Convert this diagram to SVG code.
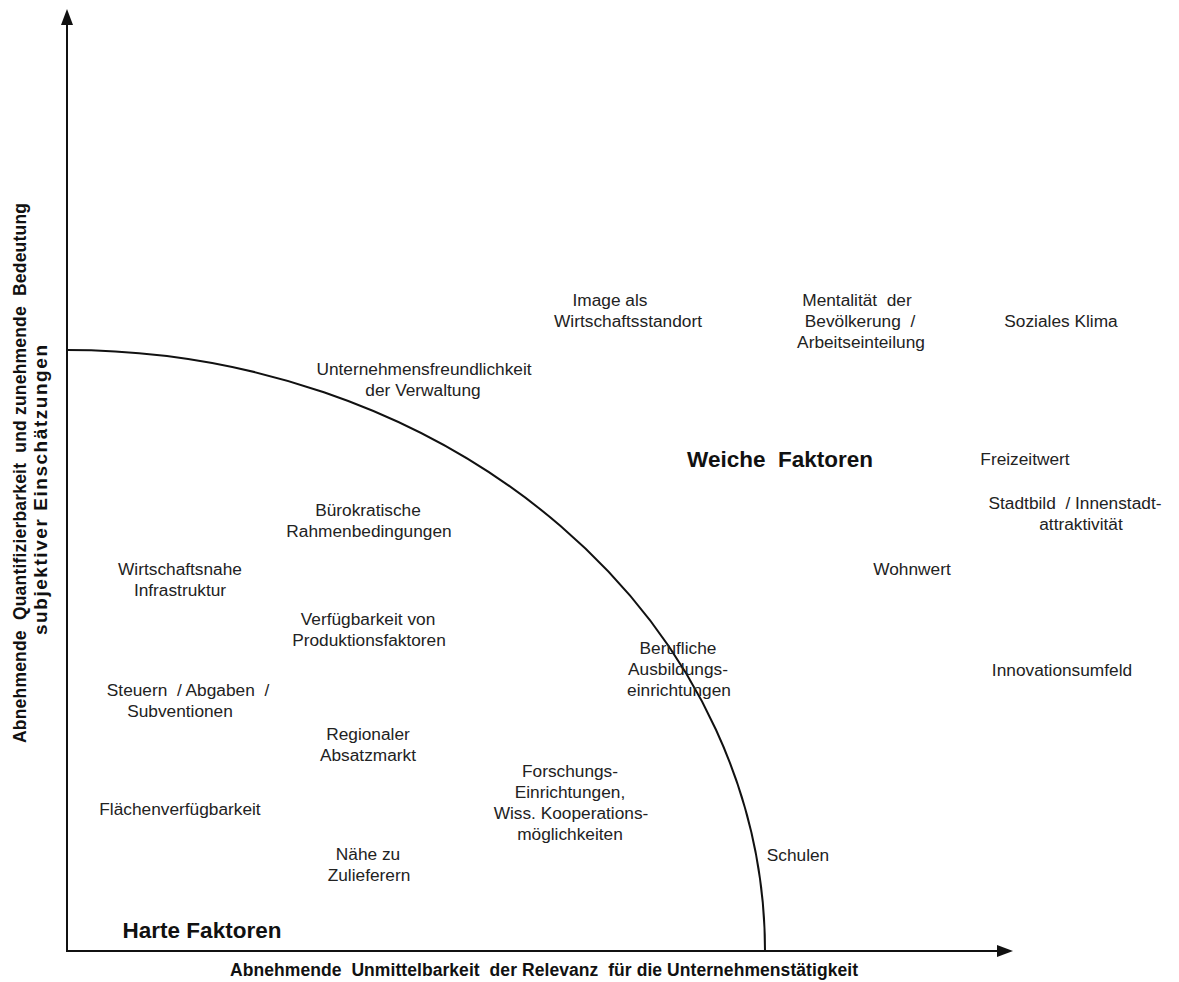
<svg xmlns="http://www.w3.org/2000/svg" width="1179" height="982" viewBox="0 0 1179 982">
  <defs>
    <style>
      text { white-space: pre; }
      .lbl { font-family: "Liberation Sans", Arial, sans-serif; font-size: 17.3px; fill: #222; text-anchor: middle; }
      .big { font-family: "Liberation Sans", Arial, sans-serif; font-size: 22.5px; font-weight: bold; fill: #111; text-anchor: middle; }
      .axl { font-family: "Liberation Sans", Arial, sans-serif; font-size: 17.5px; font-weight: bold; fill: #111; text-anchor: middle; }
      .ln { fill: none; stroke: #111; stroke-width: 2; }
    </style>
  </defs>
  <rect width="1179" height="982" fill="#fff"/>

  <!-- axes and the boundary curve between hard and soft factors -->
  <g id="connectors">
    <line class="ln" x1="67" y1="952" x2="67" y2="24"/>
    <path d="M61,25 L67,9 L73,25 z" fill="#111"/>
    <line class="ln" x1="66" y1="951" x2="998" y2="951"/>
    <path d="M997,945 L1013,951 L997,957 z" fill="#111"/>
    <path class="ln" d="M67,350 A698,601 0 0 1 765,951"/>
  </g>

  <!-- axis titles -->
  <g id="axis-y">
    <text class="axl" transform="translate(26,473) rotate(-90)" textLength="540">Abnehmende  Quantifizierbarkeit  und zunehmende  Bedeutung</text>
    <text class="axl" transform="translate(47,490) rotate(-90)" style="font-size:19px" textLength="290">subjektiver Einschätzungen</text>
  </g>
  <g id="axis-x">
    <text class="axl" x="544" y="976" textLength="628">Abnehmende  Unmittelbarkeit  der Relevanz  für die Unternehmenstätigkeit</text>
  </g>

  <!-- region titles -->
  <g id="weiche-faktoren"><text class="big" x="780" y="467">Weiche  Faktoren</text></g>
  <g id="harte-faktoren"><text class="big" x="202" y="938">Harte Faktoren</text></g>

  <!-- factors -->
  <g id="image"><text class="lbl" x="610" y="306">Image als</text><text class="lbl" x="628" y="327">Wirtschaftsstandort</text></g>
  <g id="mentalitaet"><text class="lbl" x="857" y="306">Mentalität  der</text><text class="lbl" x="860" y="327">Bevölkerung  /</text><text class="lbl" x="861" y="348">Arbeitseinteilung</text></g>
  <g id="soziales-klima"><text class="lbl" x="1061" y="327">Soziales Klima</text></g>
  <g id="unternehmensfreundlichkeit"><text class="lbl" x="424" y="375">Unternehmensfreundlichkeit</text><text class="lbl" x="423" y="396">der Verwaltung</text></g>
  <g id="freizeitwert"><text class="lbl" x="1025" y="465">Freizeitwert</text></g>
  <g id="stadtbild"><text class="lbl" x="1075" y="509">Stadtbild  / Innenstadt-</text><text class="lbl" x="1081" y="530">attraktivität</text></g>
  <g id="buerokratische"><text class="lbl" x="368" y="516">Bürokratische</text><text class="lbl" x="369" y="537">Rahmenbedingungen</text></g>
  <g id="wirtschaftsnahe"><text class="lbl" x="180" y="575">Wirtschaftsnahe</text><text class="lbl" x="180" y="596">Infrastruktur</text></g>
  <g id="wohnwert"><text class="lbl" x="912" y="575">Wohnwert</text></g>
  <g id="verfuegbarkeit"><text class="lbl" x="368" y="625">Verfügbarkeit von</text><text class="lbl" x="369" y="646">Produktionsfaktoren</text></g>
  <g id="berufliche"><text class="lbl" x="678" y="654">Berufliche</text><text class="lbl" x="678" y="675">Ausbildungs-</text><text class="lbl" x="679" y="696">einrichtungen</text></g>
  <g id="innovationsumfeld"><text class="lbl" x="1062" y="676">Innovationsumfeld</text></g>
  <g id="steuern"><text class="lbl" x="188" y="696">Steuern  / Abgaben  /</text><text class="lbl" x="180" y="717">Subventionen</text></g>
  <g id="regionaler"><text class="lbl" x="368" y="740">Regionaler</text><text class="lbl" x="368" y="761">Absatzmarkt</text></g>
  <g id="forschung"><text class="lbl" x="570" y="777">Forschungs-</text><text class="lbl" x="570" y="798">Einrichtungen,</text><text class="lbl" x="571" y="819">Wiss. Kooperations-</text><text class="lbl" x="570" y="840">möglichkeiten</text></g>
  <g id="flaechen"><text class="lbl" x="180" y="815">Flächenverfügbarkeit</text></g>
  <g id="schulen"><text class="lbl" x="798" y="861">Schulen</text></g>
  <g id="naehe"><text class="lbl" x="368" y="860">Nähe zu</text><text class="lbl" x="369" y="881">Zulieferern</text></g>
</svg>
